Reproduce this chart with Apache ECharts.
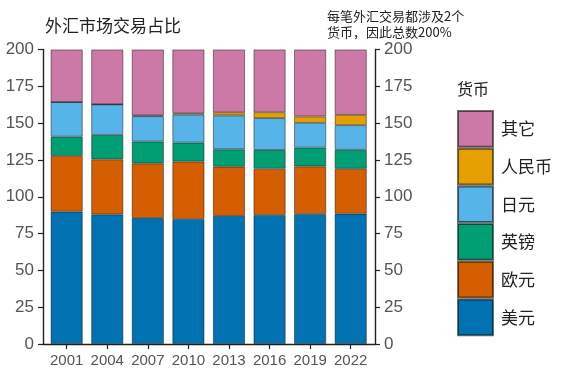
<!DOCTYPE html>
<html>
<head>
<meta charset="utf-8">
<script src="https://cdn.jsdelivr.net/npm/echarts@6/dist/echarts.min.js"></script>
<style>html,body{margin:0;padding:0;background:#fff;}#c{width:561px;height:372px;}</style>
</head>
<body>
<div id="c"></div>
<script>
var years = ['2001','2004','2007','2010','2013','2016','2019','2022'];
var usd   = [89.9, 88.0, 85.6, 84.9, 87.0, 87.6, 88.3, 88.5];
var eur   = [37.9, 37.4, 37.0, 39.0, 33.4, 31.4, 32.3, 30.5];
var gbp   = [13.0, 16.5, 14.9, 12.9, 11.8, 12.8, 12.8, 12.9];
var jpy   = [23.5, 20.8, 17.2, 19.0, 23.0, 21.6, 16.8, 16.7];
var cny   = [0.0, 0.1, 0.5, 0.9, 2.2, 4.0, 4.3, 7.0];
var other = [35.7, 37.2, 44.8, 43.3, 42.6, 42.6, 45.5, 44.4];
var yTicks = [0, 25, 50, 75, 100, 125, 150, 175, 200];

var names  = ['美元','欧元','英镑','日元','人民币','其它'];
var values = [usd, eur, gbp, jpy, cny, other];
var colors = ['#0072B2','#D55E00','#009E73','#56B4E9','#E69F00','#CC79A7'];

var NUM = 'Liberation Sans, Arial, sans-serif';
var CJK = 'Noto Sans CJK SC, sans-serif';
var TOP = 49.5, BOTTOM = 28;

var series = names.map(function(n, i){
  return {
    name: n, type: 'bar', stack: 'all', xAxisIndex: 0, yAxisIndex: 0,
    barWidth: 32, data: values[i],
    itemStyle: {color: colors[i], borderColor: 'rgba(0,0,0,0.55)', borderWidth: 0.8}
  };
});

var chart = echarts.init(document.getElementById('c'), null, {renderer: 'canvas'});
chart.setOption({
  animation: false,
  backgroundColor: '#fff',
  title: [
    {text: '外汇市场交易占比', left: 40, top: 12,
     textStyle: {fontFamily: CJK, fontSize: 17, fontWeight: 'normal', color: '#222'}},
    {text: '每笔外汇交易都涉及2个\n货币，因此总数200%', left: 322, top: 3,
     textStyle: {fontFamily: CJK, fontSize: 13, fontWeight: 'normal', color: '#222', lineHeight: 16}},
    {text: '货币', left: 452, top: 76,
     textStyle: {fontFamily: CJK, fontSize: 16, fontWeight: 'normal', color: '#222'}}
  ],
  legend: {
    orient: 'vertical', left: 452, top: 105,
    itemWidth: 35, itemHeight: 35.7, itemGap: 0, icon: 'rect',
    data: ['其它','人民币','日元','英镑','欧元','美元'],
    textStyle: {fontFamily: CJK, fontSize: 17, color: '#222', padding: [0,0,0,3]}
  },
  grid: [
    {left: 46.4, width: 324.6, top: TOP, bottom: BOTTOM, containLabel: false},
    {left: 43, width: 332, top: TOP, bottom: BOTTOM, containLabel: false}
  ],
  xAxis: [
    {type: 'category', gridIndex: 0, data: years,
     axisLine: {show: false},
     axisTick: {show: true, alignWithLabel: true, length: 5, lineStyle: {color: '#222', width: 1.2}},
     axisLabel: {interval: 0, fontFamily: NUM, fontSize: 15, color: '#555', margin: 9}},
    {type: 'value', gridIndex: 1, min: 0, max: 1,
     axisLine: {show: true, lineStyle: {color: '#222', width: 1.4}},
     axisTick: {show: false}, axisLabel: {show: false}, splitLine: {show: false}}
  ],
  yAxis: [
    {type: 'value', gridIndex: 0, min: 0, max: 200, show: false, splitLine: {show: false}},
    {type: 'value', gridIndex: 1, position: 'left', min: 0, max: 200, interval: 25,
     axisLine: {show: true, lineStyle: {color: '#222', width: 1.4}},
     axisTick: {show: true, length: 5, lineStyle: {color: '#222', width: 1.2}},
     axisLabel: {fontFamily: NUM, fontSize: 17, color: '#555', margin: 9,
       formatter: function(v){ return yTicks.indexOf(v) >= 0 ? String(v) : ''; }},
     splitLine: {show: false}},
    {type: 'value', gridIndex: 1, position: 'right', min: 0, max: 200, interval: 25,
     axisLine: {show: true, lineStyle: {color: '#222', width: 1.4}},
     axisTick: {show: true, length: 5, lineStyle: {color: '#222', width: 1.2}},
     axisLabel: {fontFamily: NUM, fontSize: 17, color: '#555', margin: 9,
       formatter: function(v){ return yTicks.indexOf(v) >= 0 ? String(v) : ''; }},
     splitLine: {show: false}}
  ],
  series: series
});
</script>
</body>
</html>
